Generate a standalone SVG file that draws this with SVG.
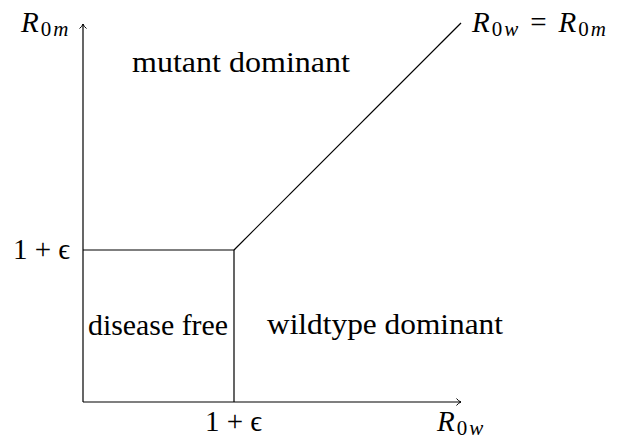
<svg xmlns="http://www.w3.org/2000/svg" width="619" height="441" viewBox="0 0 619 441">
<defs>
<style>
text{font-family:"Liberation Serif","DejaVu Serif",serif;font-size:29px;fill:#000}
.it{font-style:italic}
.sub{font-size:21px}
.ln{stroke:#000;stroke-width:1.2;fill:none}
</style>
<marker id="arr" markerWidth="10" markerHeight="10" refX="7" refY="5" orient="auto" markerUnits="userSpaceOnUse">
<path d="M2.5,1.5 Q4.5,4.2 7,5 Q4.5,5.8 2.5,8.5" fill="none" stroke="#000" stroke-width="1"/>
</marker>
</defs>
<g id="connectors">
<line class="ln" x1="83" y1="402" x2="83" y2="24" marker-end="url(#arr)"/>
<line class="ln" x1="83" y1="402" x2="461" y2="402" marker-end="url(#arr)"/>
<polyline class="ln" points="83,250 234,250 234,402"/>
<line class="ln" x1="234" y1="250" x2="461" y2="23"/>
</g>
<g id="axis-y-label"><text x="21" y="32"><tspan class="it">R</tspan><tspan class="sub" dx="2" dy="4">0</tspan><tspan class="sub it" dx="2">m</tspan></text></g>
<g id="axis-x-label"><text x="437" y="431"><tspan class="it">R</tspan><tspan class="sub" dx="2" dy="4">0</tspan><tspan class="sub it" dx="2">w</tspan></text></g>
<g id="diag-label"><text x="472" y="32"><tspan class="it">R</tspan><tspan class="sub" dx="2" dy="4">0</tspan><tspan class="sub it" dx="2">w</tspan><tspan dx="12" dy="-4">=</tspan><tspan class="it" dx="12">R</tspan><tspan class="sub" dx="2" dy="4">0</tspan><tspan class="sub it" dx="2">m</tspan></text></g>
<g id="y-tick"><text x="13" y="259">1 + ϵ</text></g>
<g id="x-tick"><text x="205" y="431">1 + ϵ</text></g>
<g id="mutant"><text x="132" y="72" textLength="218" lengthAdjust="spacingAndGlyphs">mutant dominant</text></g>
<g id="disease"><text x="88" y="335" textLength="140" lengthAdjust="spacingAndGlyphs">disease free</text></g>
<g id="wildtype"><text x="267" y="334" textLength="236" lengthAdjust="spacingAndGlyphs">wildtype dominant</text></g>
</svg>
